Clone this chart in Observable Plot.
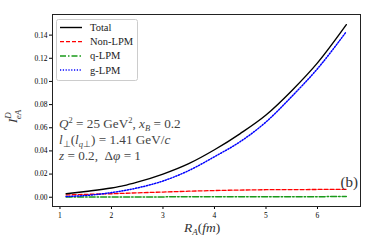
<!DOCTYPE html>
<html><head><meta charset="utf-8">
<script src="https://cdn.jsdelivr.net/npm/d3@7"></script>
<script src="https://cdn.jsdelivr.net/npm/@observablehq/plot@0.6"></script>
<style>body{margin:0;background:#fff}svg{font-family:"Liberation Serif",serif}</style>
</head><body><div id="c"></div>
<script>
const rTotal = [1.12,1.5,2.0,2.24,2.5,3.0,3.5,4.0,4.5,5.0,5.5,6.0,6.56];
const total  = [0.003,0.005,0.008,0.010,0.013,0.020,0.029,0.041,0.055,0.071,0.092,0.116,0.149];
const rOther = [1.12,1.5,2.0,2.5,3.0,3.5,4.0,4.5,5.0,5.5,6.0,6.56];
const nonLPM = [0.002,0.0025,0.003,0.0038,0.0045,0.0052,0.0058,0.0062,0.0065,0.0066,0.0067,0.0068];
const qLPM   = [0.0002,0.0002,0.0003,0.0003,0.0003,0.0004,0.0004,0.0004,0.0005,0.0005,0.0005,0.0006];
const gLPM   = [0.0006,0.0015,0.004,0.008,0.014,0.023,0.035,0.048,0.065,0.087,0.111,0.143];
const xTicks = [1,2,3,4,5,6];
const yTicks = [0,0.02,0.04,0.06,0.08,0.10,0.12,0.14];
const seriesNames = ["Total","Non-LPM","q-LPM","g-LPM"];

const tot = rTotal.map((x,i)=>({x,y:total[i]}));
const mk = arr => rOther.map((x,i)=>({x,y:arr[i]}));

const W=374,H=249,ml=52,mt=14,mr=14,mb=43;
const plot = Plot.plot({
  width:W, height:H, marginLeft:ml, marginTop:mt, marginRight:mr, marginBottom:mb,
  style:{fontFamily:"Liberation Serif, serif", background:"#fff"},
  x:{domain:[0.855,6.835]},
  y:{domain:[-0.008,0.1578]},
  marks:[
    Plot.line(mk(nonLPM),{x:"x",y:"y",stroke:"#ff0000",strokeWidth:1.3,strokeDasharray:"4,2"}),
    Plot.line(mk(qLPM),{x:"x",y:"y",stroke:"#1a9a1a",strokeWidth:1.5,strokeDasharray:"6,2,1.5,2"}),
    Plot.line(mk(gLPM),{x:"x",y:"y",stroke:"#0000ff",strokeWidth:1.5,strokeDasharray:"1.2,1.6",curve:"monotone-x"}),
    Plot.line(tot,{x:"x",y:"y",stroke:"#000",strokeWidth:1.4,curve:"monotone-x"}),
    Plot.axisX({ticks:xTicks,tickSize:3,tickPadding:3,fontSize:7.5,label:null,tickFormat:d=>d}),
    Plot.axisY({ticks:yTicks,tickSize:3,tickPadding:2,fontSize:7.5,label:null,tickFormat:d3.format(".2f")}),
    Plot.frame({stroke:"#222",strokeWidth:1,strokeOpacity:1})
  ]
});
document.getElementById("c").appendChild(plot);
const svg = d3.select(plot);
const txt = (sel)=>sel.append("text").attr("text-anchor","start");

// legend
const lg = svg.append("g");
lg.append("rect").attr("x",56.5).attr("y",19.5).attr("width",81).attr("height",61).attr("rx",2)
  .attr("fill","#fff").attr("fill-opacity",0.85).attr("stroke","#ccc");
const styles=[{c:"#000",d:null,w:1.4},{c:"#ff0000",d:"4,2",w:1.3},{c:"#1a9a1a",d:"6,2,1.5,2",w:1.5},{c:"#0000ff",d:"1.2,1.6",w:1.5}];
seriesNames.forEach((n,i)=>{
  const y=27.5+i*14.2;
  lg.append("line").attr("x1",60).attr("x2",82).attr("y1",y).attr("y2",y)
    .attr("stroke",styles[i].c).attr("stroke-width",styles[i].w).attr("stroke-dasharray",styles[i].d);
  txt(lg).attr("x",90).attr("y",y+3.5).attr("font-size",10.5).attr("fill","#222").text(n);
});

// annotation
const fs=13.2, col="#444";
const t1=txt(svg).attr("x",59).attr("y",128).attr("font-size",fs).attr("fill",col);
t1.append("tspan").attr("font-style","italic").text("Q");
t1.append("tspan").attr("font-size",8.5).attr("dy",-5).text("2");
t1.append("tspan").attr("dy",5).text(" = 25 GeV");
t1.append("tspan").attr("font-size",8.5).attr("dy",-5).text("2");
t1.append("tspan").attr("dy",5).text(", ");
t1.append("tspan").attr("font-style","italic").text("x");
t1.append("tspan").attr("font-size",8.5).attr("font-style","italic").attr("dy",2.5).text("B");
t1.append("tspan").attr("dy",-2.5).text(" = 0.2");

const t2=txt(svg).attr("x",59).attr("y",144).attr("font-size",fs).attr("fill",col);
t2.append("tspan").attr("font-style","italic").text("l");
t2.append("tspan").attr("font-size",8.5).attr("dy",2.5).text("⊥");
t2.append("tspan").attr("dy",-2.5).text("(");
t2.append("tspan").attr("font-style","italic").text("l");
t2.append("tspan").attr("font-size",8.5).attr("dy",2.5).html("<tspan font-style='italic'>q</tspan>⊥");
t2.append("tspan").attr("dy",-2.5).text(") = 1.41 GeV/");
t2.append("tspan").attr("font-style","italic").text("c");

const t3=txt(svg).attr("x",59).attr("y",160).attr("font-size",fs).attr("fill",col);
t3.append("tspan").attr("font-style","italic").text("z");
t3.append("tspan").text(" = 0.2,  Δ");
t3.append("tspan").attr("font-style","italic").text("φ");
t3.append("tspan").text(" = 1");

svg.append("text").attr("x",358).attr("y",187).attr("text-anchor","end").attr("font-size",15).attr("fill","#333").text("(b)");

// axis labels
const xl=txt(svg).attr("x",184).attr("y",232).attr("font-size",13.5).attr("fill","#333");
xl.append("tspan").attr("font-style","italic").text("R");
xl.append("tspan").attr("font-style","italic").attr("font-size",9).attr("dy",3).text("A");
xl.append("tspan").attr("dy",-3).text("(");
xl.append("tspan").attr("font-style","italic").text("fm");
xl.append("tspan").text(")");

const yl=txt(svg).attr("transform","translate(17,123) rotate(-90)").attr("font-size",13).attr("fill","#333");
yl.append("tspan").attr("font-style","italic").text("I");
yl.append("tspan").attr("font-style","italic").attr("font-size",9).attr("dy",-6).text("D");
yl.append("tspan").attr("font-style","italic").attr("font-size",9).attr("dx",-7).attr("dy",10).text("eA");
</script></body></html>
